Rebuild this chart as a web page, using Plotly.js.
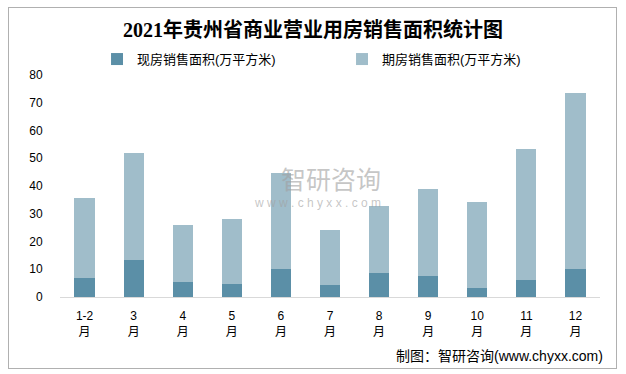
<!DOCTYPE html>
<html><head><meta charset="utf-8">
<script src="https://cdn.plot.ly/plotly-3.0.1.min.js"></script>
<style>
html,body{margin:0;padding:0;background:#fff;}
#chart{width:626px;height:374px;}
#frame{position:absolute;left:8px;top:7px;width:607px;height:360px;border:1px solid #b0b0b0;pointer-events:none;}
</style></head>
<body>
<div id="chart"></div>
<div id="frame"></div>
<script>
const categories = ["1-2<br>月","3<br>月","4<br>月","5<br>月","6<br>月","7<br>月","8<br>月","9<br>月","10<br>月","11<br>月","12<br>月"];
const spotArea = [7.0, 13.4, 5.5, 4.8, 10.2, 4.4, 8.8, 7.7, 3.4, 6.2, 10.2];
const futureArea = [28.8, 38.6, 20.6, 23.4, 34.6, 19.9, 24.1, 31.3, 30.9, 47.2, 63.4];
const seriesNames = ["现房销售面积(万平方米)", "期房销售面积(万平方米)"];
const yTicks = [0,10,20,30,40,50,60,70,80];

const font = "Liberation Sans, Arial, 'Noto Sans CJK SC', sans-serif";
const data = [
  {type:'bar', x:categories, y:spotArea, name:seriesNames[0], marker:{color:'#5b8fa7'}, width:0.41},
  {type:'bar', x:categories, y:futureArea, name:seriesNames[1], marker:{color:'#a0bdca'}, width:0.41}
];
const layout = {
  width:626, height:374,
  margin:{l:60, r:26, t:75, b:77},
  barmode:'stack',
  paper_bgcolor:'#fff', plot_bgcolor:'#fff',
  font:{family:font, size:12, color:'#000'},
  title:{text:'<b>2021年贵州省商业营业用房销售面积统计图</b>', x:0.5, xanchor:'center', y:0.92, yanchor:'middle',
         font:{family:"'Liberation Serif', 'Noto Sans CJK SC', serif", size:20, color:'#000'}},
  showlegend:true,
  legend:{orientation:'h', xref:'container', yref:'container', x:0.155, xanchor:'left', y:0.842, yanchor:'middle',
          entrywidth:200, entrywidthmode:'pixels',
          itemwidth:30, font:{size:13, color:'#000'}, traceorder:'normal', bgcolor:'rgba(0,0,0,0)'},
  xaxis:{type:'category', showline:true, linecolor:'#d9d9d9', linewidth:1, ticks:'outside', ticklen:8, tickcolor:'rgba(0,0,0,0)',
         tickfont:{size:12, color:'#000'}, showgrid:false, zeroline:false, fixedrange:true},
  yaxis:{range:[0,80], tickvals:yTicks, showgrid:false, zeroline:false, showline:false, ticks:'outside', ticklen:14,
         tickcolor:'rgba(0,0,0,0)', tickfont:{size:12, color:'#000'}, fixedrange:true},
  annotations:[
    {text:'制图：智研咨询(www.chyxx.com)', xref:'paper', yref:'paper', x:1.01, y:-0.265, xanchor:'right', yanchor:'middle',
     showarrow:false, font:{size:14, color:'#000'}},
    {text:'智研咨询', xref:'paper', yref:'paper', x:0.598, y:0.535, xanchor:'right', yanchor:'middle', showarrow:false,
     font:{size:25, color:'rgba(160,160,160,0.6)', family:"'Noto Sans CJK SC', sans-serif"}},
    {text:'w w w . c h y x x . c o m', xref:'paper', yref:'paper', x:0.598, y:0.425, xanchor:'right', yanchor:'middle', showarrow:false,
     font:{size:12, color:'rgba(160,160,160,0.6)'}}
  ]
};
Plotly.newPlot('chart', data, layout, {displayModeBar:false, staticPlot:true});
</script>
</body></html>
